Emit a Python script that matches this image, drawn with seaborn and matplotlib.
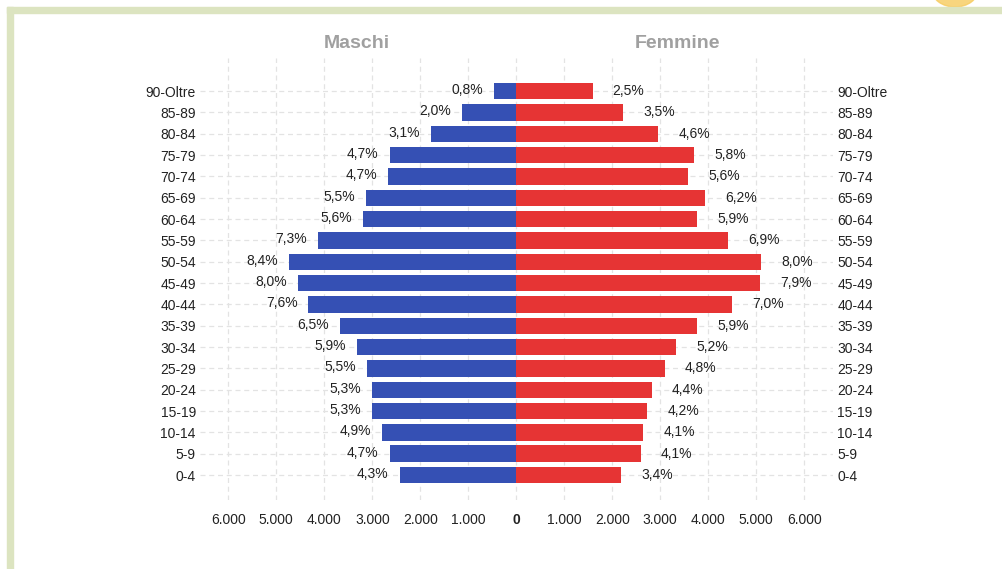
import matplotlib
matplotlib.use("Agg")
import matplotlib.pyplot as plt
import matplotlib.patches as mpatches
import matplotlib.transforms as mtransforms
from matplotlib.ticker import FuncFormatter
import seaborn as sns
import pandas as pd

# classi di eta, dall'alto verso il basso
eta = ['90-Oltre', '85-89', '80-84', '75-79', '70-74', '65-69', '60-64',
       '55-59', '50-54', '45-49', '40-44', '35-39', '30-34', '25-29',
       '20-24', '15-19', '10-14', '5-9', '0-4']

maschi = [470, 1140, 1770, 2640, 2670, 3140, 3190, 4140, 4730, 4540,
          4330, 3670, 3310, 3100, 3000, 3000, 2790, 2640, 2430]
femmine = [1590, 2230, 2960, 3710, 3580, 3940, 3770, 4420, 5100, 5080,
           4500, 3770, 3330, 3100, 2830, 2730, 2650, 2600, 2190]

perc_m = ['0,8%', '2,0%', '3,1%', '4,7%', '4,7%', '5,5%', '5,6%', '7,3%',
          '8,4%', '8,0%', '7,6%', '6,5%', '5,9%', '5,5%', '5,3%', '5,3%',
          '4,9%', '4,7%', '4,3%']
perc_f = ['2,5%', '3,5%', '4,6%', '5,8%', '5,6%', '6,2%', '5,9%', '6,9%',
          '8,0%', '7,9%', '7,0%', '5,9%', '5,2%', '4,8%', '4,4%', '4,2%',
          '4,1%', '4,1%', '3,4%']

tick_vals = [-6000, -5000, -4000, -3000, -2000, -1000, 0,
             1000, 2000, 3000, 4000, 5000, 6000]

BLU = '#3550b4'
ROSSO = '#e63434'

df_m = pd.DataFrame({'eta': eta, 'n': [-v for v in maschi]})
df_f = pd.DataFrame({'eta': eta, 'n': femmine})

sns.set_style('white')
plt.rcParams['font.family'] = ['Liberation Sans', 'DejaVu Sans']

W, H = 1003, 569
fig = plt.figure(figsize=(W / 100, H / 100), dpi=100)
ax = fig.add_axes([200 / W, 1 - 500 / H, 633 / W, 442 / H])

sns.barplot(data=df_m, x='n', y='eta', order=eta, color=BLU,
            width=0.77, orient='h', ax=ax, saturation=1, linewidth=0)
sns.barplot(data=df_f, x='n', y='eta', order=eta, color=ROSSO,
            width=0.77, orient='h', ax=ax, saturation=1, linewidth=0)

ax.set_xlim(-6590, 6600)
ax.set_ylim(19.17, -1.55)
ax.set_xticks(tick_vals)
ax.xaxis.set_major_formatter(
    FuncFormatter(lambda v, p: f'{abs(int(v)):,}'.replace(',', '.')))
ax.set_xlabel('')
ax.set_ylabel('')

ax.grid(True, axis='both', linestyle=(0, (4, 3)), color='#e3e3e3',
        linewidth=0.9)
ax.set_axisbelow(True)
for s in ax.spines.values():
    s.set_visible(False)

ax.tick_params(axis='y', length=0, pad=3, labelsize=10, labelcolor='#222222',
               labelright=True)
ax.tick_params(axis='x', length=0, pad=9, labelsize=10, labelcolor='#222222')
for lab in ax.get_xticklabels():
    if lab.get_text() == '0':
        lab.set_fontweight('bold')

# etichette percentuali
for i in range(len(eta)):
    ax.annotate(perc_m[i], xy=(-maschi[i], i), xytext=(-11, 1),
                textcoords='offset pixels', ha='right', va='center',
                fontsize=10, color='#222222')
    ax.annotate(perc_f[i], xy=(femmine[i], i), xytext=(20, 0),
                textcoords='offset pixels', ha='left', va='center',
                fontsize=10, color='#222222')

trans = mtransforms.blended_transform_factory(ax.transData, ax.transAxes)
ax.text(-3330, 1.032, 'Maschi', transform=trans, ha='center', va='center',
        fontsize=14, fontweight='bold', color='#a0a0a0')
ax.text(3350, 1.032, 'Femmine', transform=trans, ha='center', va='center',
        fontsize=14, fontweight='bold', color='#a0a0a0')

# cornice
def px(x, y):
    return x / W, 1 - y / H

fig.add_artist(mpatches.Ellipse(px(955, -10), 46 / W, 34 / H,
                                transform=fig.transFigure,
                                color='#f7cb5e', alpha=0.8, zorder=0))
fig.add_artist(mpatches.Rectangle(px(7, 13), (W - 7) / W, 6 / H,
                                  transform=fig.transFigure,
                                  color='#dce4c0', zorder=1))
fig.add_artist(mpatches.Rectangle(px(7, H), 6 / W, (H - 7) / H,
                                  transform=fig.transFigure,
                                  color='#dce4c0', zorder=1))

fig.savefig('out.png', dpi=100)
